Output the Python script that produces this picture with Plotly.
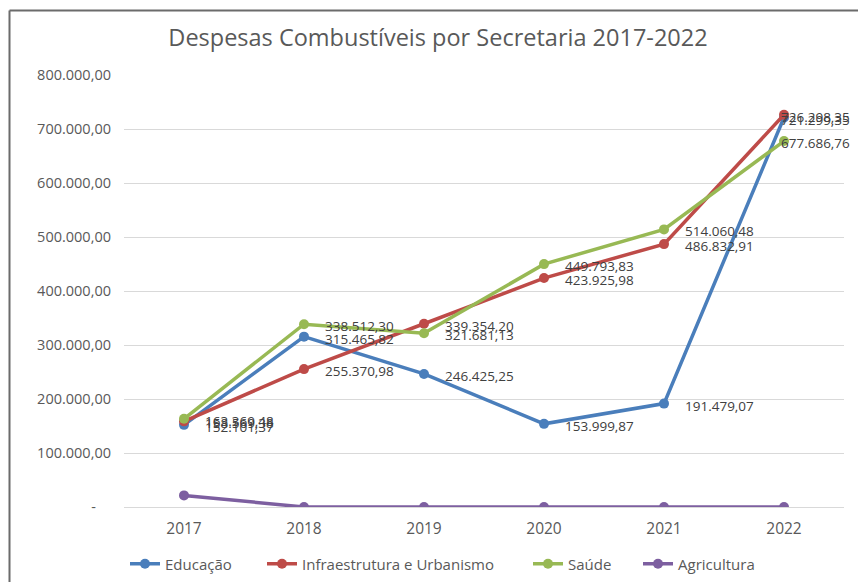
import plotly.graph_objects as go

# Fuel expenses per department, 2017-2022 (R$)
years = ["2017", "2018", "2019", "2020", "2021", "2022"]
educacao = [152101.37, 315465.82, 246425.25, 153999.87, 191479.07, 721299.35]
infraestrutura = [158569.38, 255370.98, 339354.20, 423925.98, 486832.91, 726298.35]
saude = [163369.48, 338512.30, 321681.13, 449793.83, 514060.48, 677686.76]
agricultura = [21500.00, 0, 0, 0, 0, 0]

series = [
    ("Educação", educacao, "#4A7EBB", True),
    ("Infraestrutura e Urbanismo", infraestrutura, "#BE4B48", True),
    ("Saúde", saude, "#98B954", True),
    ("Agricultura", agricultura, "#7D5FA0", False),
]

y_ticks = [0, 100000, 200000, 300000, 400000, 500000, 600000, 700000, 800000]


def br(v):
    s = f"{v:,.2f}"
    return s.replace(",", "X").replace(".", ",").replace("X", ".")


tick_text = ["-" + "\u00a0" * 4 if v == 0 else br(v) for v in y_ticks]

FONT = "Open Sans"
W, H = 858, 582
L, R, T, B = 124, 14, 75, 75

# left edge of each legend entry's text, in pixels
legend_text_x = [165, 302, 568, 678]

fig = go.Figure()
annotations = []
legends = {}
for k, (name, vals, color, labelled) in enumerate(series):
    lg = "legend" if k == 0 else f"legend{k + 1}"
    fig.add_trace(go.Scatter(
        x=years, y=vals, name=name, mode="lines+markers",
        line=dict(color=color, width=3.5),
        marker=dict(color=color, size=10),
        legend=lg, showlegend=True,
    ))
    legends[lg] = dict(
        orientation="h", x=(legend_text_x[k] - 40) / W, xref="container", xanchor="left",
        y=1 - 564 / H, yref="container", yanchor="middle",
        bgcolor="rgba(0,0,0,0)",
        font=dict(family=FONT, size=15, color="#595959"),
    )
    if labelled:
        last = len(vals) - 1
        for i, v in enumerate(vals):
            annotations.append(dict(
                x=i, y=v, xref="x", yref="y", text=br(v), showarrow=False,
                xanchor="left", yanchor="middle",
                xshift=19 if i < last else -5, yshift=-2,
                font=dict(family=FONT, size=13.5, color="#404040"),
            ))

# chart frame (top and left edges visible)
pw, ph = W - L - R, H - T - B
fx = (9.5 - L) / pw
fy = (H - 10.5 - B) / ph
shapes = [
    dict(type="line", xref="paper", yref="paper", x0=fx, x1=1.2, y0=fy, y1=fy,
         line=dict(color="#6B6B6B", width=2)),
    dict(type="line", xref="paper", yref="paper", x0=fx, x1=fx, y0=-0.3, y1=fy,
         line=dict(color="#6B6B6B", width=2)),
]

fig.update_layout(
    width=W, height=H,
    showlegend=True,
    margin=dict(l=L, r=R, t=T, b=B, autoexpand=False),
    paper_bgcolor="white", plot_bgcolor="white",
    title=dict(text="Despesas Combustíveis por Secretaria 2017-2022",
               x=438 / W, xref="container", xanchor="center",
               y=1 - 38 / H, yref="container", yanchor="middle",
               font=dict(family=FONT, size=23.5, color="#595959")),
    font=dict(family=FONT, size=14, color="#595959"),
    xaxis=dict(type="category", range=[-0.5, 5.5], showgrid=False,
               showline=False, ticks="", zeroline=False, ticklabelstandoff=10,
               tickfont=dict(family=FONT, size=15.5, color="#595959")),
    yaxis=dict(range=[0, 800000], tickvals=y_ticks, ticktext=tick_text,
               showgrid=True, gridcolor="#D9D9D9", gridwidth=1,
               zeroline=True, zerolinecolor="#D9D9D9", zerolinewidth=1,
               showline=False, ticks="", ticklabelstandoff=12,
               tickfont=dict(family=FONT, size=14.5, color="#595959")),
    annotations=annotations,
    shapes=shapes,
    **legends,
)

fig.write_html("out.html")
